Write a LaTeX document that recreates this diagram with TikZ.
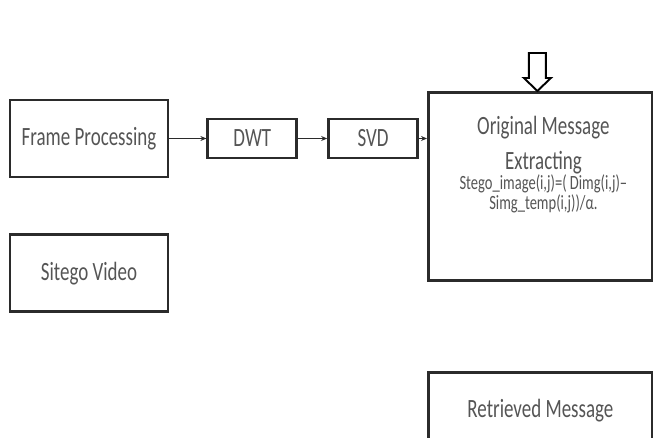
\documentclass[tikz,border=0pt]{standalone}
\usepackage{fontspec}
\setmainfont{Carlito}[FakeStretch=0.72]
\usepackage{tikz}
\usetikzlibrary{arrows.meta,positioning,calc}
\definecolor{cText}{HTML}{555555}
\definecolor{cEdge}{HTML}{2B2B2B}
\tikzset{
  blk/.style={draw=cEdge, line width=1.6pt, fill=white, align=center,
              font=\fontsize{15}{19}\selectfont, text=cText},
  bigblk/.style={blk, minimum width=3.16cm, minimum height=1.54cm},
  smallblk/.style={blk, minimum width=1.78cm, minimum height=0.78cm},
  wideblk/.style={blk, minimum width=4.48cm},
  txt/.style={font=\fontsize{15}{19}\selectfont, text=cText, inner sep=0pt},
  eqtxt/.style={font=\fontsize{11.5}{9.7}\selectfont, text=cText, inner sep=0pt,
                align=center},
  arr/.style={-{Stealth[length=1.2mm,width=1mm]}, line width=0.8pt, cEdge},
  hollowarr/.style={draw=black, line width=1.1pt, fill=white}
}

\begin{document}
\begin{tikzpicture}[x=0.02cm, y=-0.02cm]
\useasboundingbox (0,0) rectangle (653,438);
% left column
\node[bigblk] (frame) at (89,138.5) {Frame Processing};
\node[bigblk, below=1.1cm of frame] (stego) {Sitego Video};
% transform chain
\node[smallblk, right=0.74cm of frame] (dwt) {DWT};
\node[smallblk, right=0.58cm of dwt] (svd) {SVD};
% extraction box, its lines set one by one
\node[wideblk, minimum height=3.76cm, anchor=north west] (orig) at (427,91) {};
\node[txt] (origA) at ($(orig.north)+(3,37)$) {Original Message};
\node[txt] (origB) at ($(orig.north)+(3,72)$) {Extracting};
\node[eqtxt] (origC) at ($(orig.north)+(3,103)$)
  {Stego\_image(i,j)=( Dimg(i,j)--\\Simg\_temp(i,j))/α.};
\node[wideblk, minimum height=1.54cm, anchor=north west] (retr) at (427,371)
  {Retrieved Message};
\draw[arr] (frame) -- (dwt);
\draw[arr] (dwt) -- (svd);
\draw[arr] (svd.east) -- (svd.east -| orig.west);
% incoming block arrow
\draw[hollowarr] ($(orig.north)+(-3,0)$) -- ++(13.5,-13) -- ++(-5,0) -- ++(0,-25)
  -- ++(-17,0) -- ++(0,25) -- ++(-5,0) -- cycle;
\end{tikzpicture}
\end{document}
